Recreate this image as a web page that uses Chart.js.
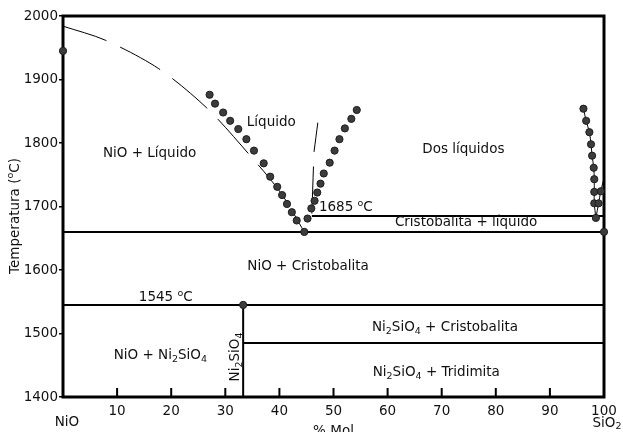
<!DOCTYPE html>
<html>
<head>
<meta charset="utf-8">
<script src="https://cdn.jsdelivr.net/npm/chart.js@4.4.0/dist/chart.umd.min.js"></script>
<style>
  body { margin: 0; background: #fff; }
</style>
</head>
<body>
<canvas id="phase_chart" width="623" height="432"></canvas>
<script>
// NiO - SiO2 phase diagram, composition in mol % SiO2, temperature in degC
const liquidusLeft = [[0, 1984], [7.8, 1962], [17.7, 1917], [26.6, 1855], [34.2, 1784], [40.3, 1721], [44.6, 1660]];
const liquidusRight = [[47.1, 1832], [46.4, 1786], null, [46.3, 1763], [46.0, 1689]];
const solvusLeft = [[96.2, 1854], [96.7, 1835], [97.3, 1817], [97.6, 1798], [97.8, 1780], [98.1, 1761],
                    [98.2, 1743], [98.2, 1723], [98.2, 1705], [98.5, 1682]];
const solvusRight = [[98.5, 1682], [99.0, 1705], [99.4, 1724], [99.9, 1741]];

// measured points
const dotsLeft = [[27.1, 1876], [28.1, 1862], [29.6, 1848], [30.9, 1835], [32.4, 1822], [33.9, 1806],
                  [35.3, 1788], [37.1, 1768], [38.3, 1747], [39.6, 1731], [40.5, 1718], [41.4, 1704],
                  [42.3, 1691], [43.2, 1678]];
const dotsRight = [[45.2, 1681], [45.9, 1697], [46.5, 1709], [47.0, 1722], [47.6, 1736], [48.2, 1752],
                   [49.3, 1769], [50.2, 1788], [51.1, 1806], [52.1, 1823], [53.3, 1838], [54.3, 1852]];
const dotsSolvus = [[96.2, 1854], [96.7, 1835], [97.3, 1817], [97.6, 1798], [97.8, 1780], [98.1, 1761],
                    [98.2, 1743], [98.2, 1723], [98.2, 1705], [98.5, 1682], [99.0, 1705], [99.4, 1724]];
const dotsSpecial = [[0, 1945], [44.6, 1660], [33.3, 1545], [100, 1660]];

// invariant lines
const eutectic = [[0, 1660], [100, 1660]];
const monotectic = [[46.0, 1685], [100, 1685]];
const peritectic = [[0, 1545], [100, 1545]];
const inversion = [[33.3, 1485], [100, 1485]];
const ni2sio4 = [[33.3, 1400], [33.3, 1545]];

const xTickMarks = [10, 20, 30, 40, 50, 60, 70, 80, 90];

// region labels: '_' = subscript, '^' = superscript for the next character
const regionText = ['Líquido', 'NiO + Líquido', 'Dos líquidos', 'Cristobalita + líquido', 'NiO + Cristobalita',
                    '1545 ^oC', 'Ni_2SiO_4 + Cristobalita', 'Ni_2SiO_4 + Tridimita', 'NiO + Ni_2SiO_4'];
const regionX = [38.5, 16, 74, 74.5, 45.3, 19, 70.6, 69, 18];
const regionY = [1832, 1783, 1790, 1675, 1605, 1557, 1510, 1439, 1466];

const FONT = '"DejaVu Sans", Verdana, sans-serif';
const SIZE = 13.5;

const pts = arr => arr.map(p => p ? {x: p[0], y: p[1]} : {x: null, y: null});

function lineSet(arr, width, dash) {
    return {data: pts(arr), showLine: true, borderColor: '#000', borderWidth: width,
            borderDash: dash || [], pointRadius: 0, tension: 0.3, spanGaps: false, order: 2, clip: false};
}
function dotSet(arr) {
    return {data: pts(arr), showLine: false, pointRadius: 3.6, backgroundColor: '#3c3c3c',
            borderColor: '#1e1e1e', borderWidth: 1, order: 0, clip: false};
}

function drawRich(ctx, str, x, y, align) {
    const runs = [];
    for (let i = 0; i < str.length; i++) {
        const c = str[i];
        if ((c === '_' || c === '^') && i + 1 < str.length) {
            runs.push({t: str[i + 1], k: c});
            i++;
        } else if (runs.length && runs[runs.length - 1].k === '') {
            runs[runs.length - 1].t += c;
        } else {
            runs.push({t: c, k: ''});
        }
    }
    const big = SIZE + 'px ' + FONT, small = '9.5px ' + FONT;
    let w = 0;
    runs.forEach(r => { ctx.font = r.k ? small : big; r.w = ctx.measureText(r.t).width; w += r.w; });
    let cx = align === 'left' ? x : x - w / 2;
    ctx.textAlign = 'left';
    ctx.textBaseline = 'middle';
    runs.forEach(r => {
        ctx.font = r.k ? small : big;
        const dy = r.k === '_' ? 4 : (r.k === '^' ? -4 : 0);
        ctx.fillText(r.t, cx, y + dy);
        cx += r.w;
    });
}

const phaseDecor = {
    id: 'phaseDecor',
    beforeDatasetsDraw(chart) {
        const {ctx, chartArea: {left, right, top, bottom}, scales: {x}} = chart;
        ctx.save();
        ctx.strokeStyle = '#000';
        ctx.lineWidth = 2;
        xTickMarks.forEach(v => {
            const px = x.getPixelForValue(v);
            ctx.beginPath();
            ctx.moveTo(px, bottom);
            ctx.lineTo(px, bottom - 9);
            ctx.stroke();
        });
        ctx.lineWidth = 3;
        ctx.strokeRect(left, top, right - left, bottom - top);
        ctx.restore();
    },
    afterDatasetsDraw(chart) {
        const {ctx, chartArea: {left, right, bottom}, scales: {x, y}} = chart;
        ctx.save();
        ctx.fillStyle = '#111';
        regionText.forEach((t, i) => {
            drawRich(ctx, t, x.getPixelForValue(regionX[i]), y.getPixelForValue(regionY[i]), 'center');
        });
        drawRich(ctx, '1685 ^oC', x.getPixelForValue(47.3), y.getPixelForValue(1699), 'left');

        // compound label along the Ni2SiO4 line
        ctx.save();
        ctx.translate(x.getPixelForValue(31.8), y.getPixelForValue(1463));
        ctx.rotate(-Math.PI / 2);
        drawRich(ctx, 'Ni_2SiO_4', 0, 0, 'center');
        ctx.restore();

        // axis titles and end members
        ctx.save();
        ctx.translate(15, 216);
        ctx.rotate(-Math.PI / 2);
        drawRich(ctx, 'Temperatura (^oC)', 0, 0, 'center');
        ctx.restore();
        drawRich(ctx, '% Mol', (left + right) / 2, bottom + 34, 'center');
        drawRich(ctx, 'NiO', left + 4, bottom + 25, 'center');
        drawRich(ctx, 'SiO_2', right + 3, bottom + 26, 'center');
        ctx.restore();
    }
};

const ctx = document.getElementById('phase_chart').getContext('2d');

new Chart(ctx, {
    type: 'scatter',
    data: {
        datasets: [
            dotSet(dotsLeft), dotSet(dotsRight), dotSet(dotsSolvus), dotSet(dotsSpecial),
            lineSet(liquidusLeft, 1, [46, 15]),
            lineSet(liquidusRight, 1),
            lineSet(solvusLeft, 1),
            lineSet(solvusRight, 1),
            lineSet(eutectic, 2), lineSet(monotectic, 2), lineSet(peritectic, 2),
            lineSet(inversion, 2), lineSet(ni2sio4, 2)
        ]
    },
    plugins: [phaseDecor],
    options: {
        responsive: false,
        animation: false,
        layout: {padding: {top: 16, right: 19, left: 0, bottom: 0}},
        plugins: {legend: {display: false}, tooltip: {enabled: false}},
        scales: {
            x: {
                type: 'linear', min: 0, max: 100,
                afterFit: s => { s.height = 35; },
                grid: {display: false, drawTicks: false},
                border: {display: false},
                ticks: {stepSize: 10, padding: 6, color: '#111', font: {family: FONT, size: SIZE},
                        maxRotation: 0, callback: v => v === 0 ? '' : String(v)}
            },
            y: {
                min: 1400, max: 2000,
                afterFit: s => { s.width = 63; },
                grid: {drawOnChartArea: false, drawTicks: true, tickLength: 4, color: '#000', lineWidth: 1.5},
                border: {display: false},
                ticks: {stepSize: 100, padding: 1, color: '#111', font: {family: FONT, size: SIZE},
                        callback: v => String(v)}
            }
        }
    }
});
</script>
</body>
</html>
